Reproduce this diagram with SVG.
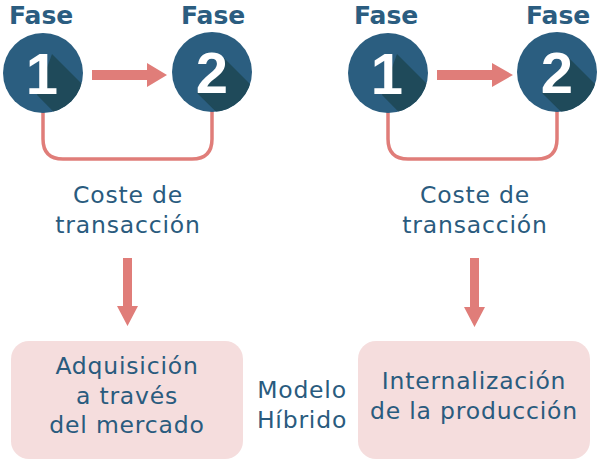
<svg xmlns="http://www.w3.org/2000/svg" width="600" height="466" viewBox="0 0 600 466">
<style>
.fase{font-family:"DejaVu Sans","Liberation Sans",sans-serif;font-weight:700;font-size:25px;fill:#2b5d80}
.num{font-family:"Liberation Sans","DejaVu Sans",sans-serif;font-weight:700;font-size:58px;fill:#ffffff;text-anchor:middle}
.circ{fill:#2b5e80}
.shadow{fill:#1f4a5a}
.lbl{font-family:"DejaVu Sans","Liberation Sans",sans-serif;font-size:23.5px;letter-spacing:0.8px;fill:#2a5b7e;text-anchor:middle}
.box{fill:#f5dddd}
.link{fill:none;stroke:#e07d79;stroke-width:3.5}
.arrow{fill:#e07d79}
</style>
<defs>
<clipPath id="c1"><circle cx="43" cy="73" r="40"/></clipPath>
<clipPath id="c2"><circle cx="212" cy="72" r="40"/></clipPath>
<clipPath id="c3"><circle cx="388" cy="73" r="40"/></clipPath>
<clipPath id="c4"><circle cx="557" cy="72" r="40"/></clipPath>
</defs>
<g id="connectors">
<path class="link" d="M43,112 V139 Q43,159 63,159 H192 Q212,159 212,139 V111"/>
<path class="link" d="M388,112 V139 Q388,159 408,159 H537 Q557,159 557,139 V111"/>
<polygon class="arrow" points="92,70 147,70 147,63 167,75 147,87 147,80 92,80"/>
<polygon class="arrow" points="437,70 492,70 492,63 513,75 492,87 492,80 437,80"/>
<polygon class="arrow" points="123,258 132,258 132,306 138,306 127.5,326 117,306 123,306"/>
<polygon class="arrow" points="470,258 479,258 479,307 485,307 474.5,327 464,307 470,307"/>
</g>
<g id="fase1a">
<text class="fase" x="9" y="24">Fase</text>
<circle class="circ" cx="43" cy="73" r="40"/>
<polygon class="shadow" clip-path="url(#c1)" points="52,54 122,124 101,160 37,95"/>
<text class="num" x="42" y="94">1</text>
</g>
<g id="fase2a">
<text class="fase" x="181" y="24">Fase</text>
<circle class="circ" cx="212" cy="72" r="40"/>
<polygon class="shadow" clip-path="url(#c2)" points="224,58 294,128 268,163 197,93"/>
<text class="num" x="212" y="93">2</text>
</g>
<g id="fase1b">
<text class="fase" x="354" y="24">Fase</text>
<circle class="circ" cx="388" cy="73" r="40"/>
<polygon class="shadow" clip-path="url(#c3)" points="397,54 467,124 446,160 382,95"/>
<text class="num" x="387" y="94">1</text>
</g>
<g id="fase2b">
<text class="fase" x="526" y="24">Fase</text>
<circle class="circ" cx="557" cy="72" r="40"/>
<polygon class="shadow" clip-path="url(#c4)" points="569,58 639,128 613,163 542,93"/>
<text class="num" x="557" y="93">2</text>
</g>
<g id="coste1">
<text class="lbl" x="128" y="203">Coste de</text>
<text class="lbl" x="128" y="233">transacción</text>
</g>
<g id="coste2">
<text class="lbl" x="475" y="203">Coste de</text>
<text class="lbl" x="475" y="233">transacción</text>
</g>
<g id="mercado">
<rect class="box" x="11" y="341" width="232" height="118" rx="18"/>
<text class="lbl" x="127" y="374">Adquisición</text>
<text class="lbl" x="127" y="404">a través</text>
<text class="lbl" x="127" y="433">del mercado</text>
</g>
<g id="hibrido">
<text class="lbl" x="302" y="398">Modelo</text>
<text class="lbl" x="302" y="428">Híbrido</text>
</g>
<g id="internalizacion">
<rect class="box" x="358" y="341" width="232" height="118" rx="18"/>
<text class="lbl" x="474" y="389">Internalización</text>
<text class="lbl" x="474" y="419">de la producción</text>
</g>
</svg>
